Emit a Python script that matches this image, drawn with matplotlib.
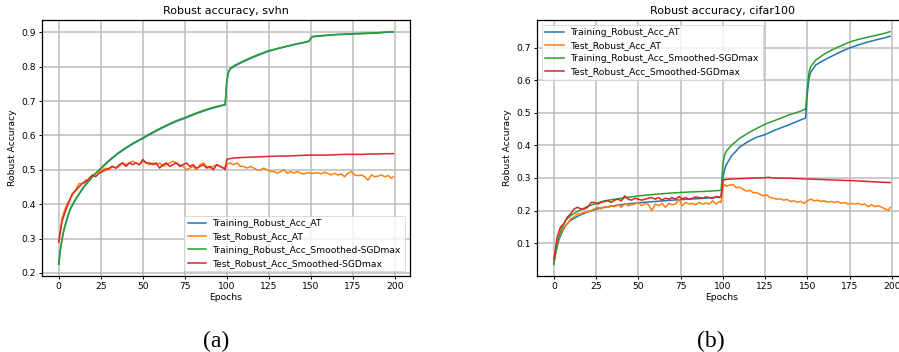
import matplotlib
matplotlib.use("Agg")
import matplotlib.pyplot as plt

# ---------------- Panel (a): svhn ----------------
svhn_x_train = [0, 1, 2, 3, 5, 7, 10, 15, 20, 25, 30, 35, 40, 45, 50, 55, 60, 65, 70, 75, 80, 85, 90, 95, 99,
                100, 101, 102, 105, 110, 115, 120, 125, 130, 135, 140, 145, 149,
                150, 151, 155, 160, 165, 170, 175, 180, 185, 190, 195, 199]
svhn_train_at = [0.226, 0.268, 0.298, 0.322, 0.357, 0.386, 0.413, 0.450, 0.479, 0.503, 0.526, 0.546, 0.563, 0.578,
                 0.591, 0.605, 0.618, 0.630, 0.641, 0.650, 0.660, 0.669, 0.677, 0.684, 0.689,
                 0.758, 0.783, 0.793, 0.803, 0.815, 0.826, 0.836, 0.845, 0.852, 0.858, 0.864, 0.869, 0.874,
                 0.883, 0.887, 0.889, 0.891, 0.893, 0.894, 0.895, 0.896, 0.897, 0.898, 0.900, 0.901]
svhn_train_sm = [0.225, 0.270, 0.300, 0.325, 0.360, 0.389, 0.415, 0.452, 0.480, 0.505, 0.528, 0.548, 0.565, 0.580,
                 0.593, 0.607, 0.620, 0.632, 0.643, 0.652, 0.662, 0.671, 0.679, 0.686, 0.690,
                 0.760, 0.785, 0.795, 0.805, 0.817, 0.828, 0.838, 0.847, 0.853, 0.859, 0.865, 0.870, 0.875,
                 0.884, 0.888, 0.890, 0.892, 0.894, 0.895, 0.896, 0.897, 0.898, 0.899, 0.901, 0.902]

svhn_x_test = list(range(0, 100, 2)) + [99] + list(range(100, 200, 2)) + [199]
svhn_test_at = [0.290, 0.360, 0.390, 0.410, 0.425, 0.440, 0.460, 0.460, 0.470, 0.470,
                0.480, 0.490, 0.495, 0.500, 0.505, 0.500, 0.510, 0.505, 0.510, 0.520,
                0.515, 0.520, 0.525, 0.520, 0.515, 0.525, 0.520, 0.515, 0.520, 0.515,
                0.520, 0.510, 0.515, 0.520, 0.525, 0.520, 0.515, 0.510, 0.500, 0.505,
                0.510, 0.500, 0.515, 0.520, 0.510, 0.505, 0.510, 0.515, 0.510, 0.505,
                0.510,
                0.515, 0.520, 0.515, 0.520, 0.510, 0.510, 0.505, 0.510, 0.505, 0.500,
                0.500, 0.505, 0.500, 0.495, 0.495, 0.490, 0.495, 0.500, 0.490, 0.495,
                0.490, 0.495, 0.490, 0.488, 0.492, 0.490, 0.490, 0.492, 0.488, 0.493,
                0.490, 0.485, 0.490, 0.485, 0.488, 0.480, 0.490, 0.495, 0.485, 0.483,
                0.485, 0.480, 0.470, 0.485, 0.480, 0.482, 0.485, 0.480, 0.483, 0.475,
                0.480]

svhn_x_test_sm = list(range(0, 100, 2)) + [99] + [100, 102, 104, 106, 110, 115, 120, 125, 130, 135, 140, 145,
                                                  150, 155, 160, 165, 170, 175, 180, 185, 190, 195, 199]
svhn_test_sm = [0.290, 0.350, 0.380, 0.405, 0.430, 0.440, 0.450, 0.460, 0.465, 0.475,
                0.485, 0.480, 0.490, 0.495, 0.500, 0.505, 0.510, 0.505, 0.515, 0.520,
                0.510, 0.520, 0.515, 0.520, 0.515, 0.530, 0.520, 0.520, 0.515, 0.520,
                0.505, 0.515, 0.520, 0.510, 0.515, 0.520, 0.510, 0.515, 0.520, 0.510,
                0.515, 0.505, 0.510, 0.515, 0.505, 0.510, 0.500, 0.515, 0.510, 0.505,
                0.500,
                0.530, 0.533, 0.534, 0.535, 0.536, 0.537, 0.538, 0.539, 0.540, 0.540, 0.541, 0.542,
                0.543, 0.543, 0.543, 0.544, 0.545, 0.545, 0.545, 0.546, 0.546, 0.547, 0.547]

# ---------------- Panel (b): cifar100 ----------------
c100_x_train = [0, 1, 2, 3, 5, 7, 10, 15, 20, 25, 30, 40, 50, 60, 70, 80, 90, 99,
                100, 101, 102, 105, 110, 115, 120, 125, 130, 135, 140, 145, 149,
                150, 151, 152, 155, 160, 165, 170, 175, 180, 185, 190, 195, 199]
c100_train_at = [0.040, 0.065, 0.090, 0.110, 0.135, 0.155, 0.170, 0.185, 0.196, 0.204, 0.210, 0.218, 0.224,
                 0.228, 0.232, 0.235, 0.238, 0.242,
                 0.300, 0.325, 0.340, 0.367, 0.395, 0.412, 0.425, 0.433, 0.445, 0.455, 0.465, 0.476, 0.484,
                 0.560, 0.605, 0.625, 0.647, 0.662, 0.675, 0.688, 0.699, 0.708, 0.716, 0.723, 0.729, 0.735]
c100_train_sm = [0.035, 0.070, 0.100, 0.120, 0.150, 0.170, 0.185, 0.200, 0.213, 0.222, 0.230, 0.238, 0.245,
                 0.250, 0.254, 0.257, 0.259, 0.262,
                 0.340, 0.370, 0.382, 0.400, 0.422, 0.438, 0.452, 0.465, 0.475, 0.485, 0.495, 0.503, 0.512,
                 0.580, 0.625, 0.642, 0.662, 0.680, 0.694, 0.706, 0.717, 0.725, 0.731, 0.737, 0.743, 0.749]

c100_x_test = list(range(0, 100, 2)) + [99] + [100, 101] + list(range(102, 200, 2)) + [199]
c100_test_at = [0.040, 0.100, 0.130, 0.150, 0.160, 0.175, 0.180, 0.190, 0.190, 0.195,
                0.195, 0.200, 0.205, 0.210, 0.205, 0.212, 0.210, 0.215, 0.212, 0.218,
                0.210, 0.222, 0.215, 0.218, 0.220, 0.225, 0.215, 0.222, 0.218, 0.200,
                0.220, 0.215, 0.222, 0.210, 0.222, 0.218, 0.220, 0.235, 0.215, 0.225,
                0.220, 0.222, 0.218, 0.225, 0.220, 0.223, 0.220, 0.230, 0.220, 0.228,
                0.225,
                0.270, 0.280,
                0.275, 0.278, 0.280, 0.270, 0.272, 0.265, 0.260, 0.262, 0.255, 0.255,
                0.250, 0.245, 0.248, 0.240, 0.238, 0.235, 0.236, 0.232, 0.234, 0.228,
                0.230, 0.226, 0.228, 0.222, 0.230, 0.235, 0.230, 0.232, 0.228, 0.230,
                0.226, 0.228, 0.225, 0.228, 0.222, 0.225, 0.220, 0.222, 0.220, 0.222,
                0.218, 0.220, 0.212, 0.218, 0.212, 0.215, 0.210, 0.205, 0.200,
                0.210]

c100_x_test_sm = list(range(0, 100, 2)) + [99] + [100, 101, 105, 110, 115, 120, 125, 127, 130, 140,
                                                  150, 160, 170, 180, 190, 199]
c100_test_sm = [0.050, 0.120, 0.150, 0.160, 0.180, 0.190, 0.205, 0.210, 0.205, 0.205,
                0.210, 0.225, 0.225, 0.220, 0.225, 0.228, 0.230, 0.225, 0.232, 0.235,
                0.230, 0.245, 0.235, 0.232, 0.238, 0.235, 0.232, 0.235, 0.238, 0.240,
                0.235, 0.240, 0.232, 0.238, 0.235, 0.240, 0.235, 0.243, 0.236, 0.240,
                0.235, 0.238, 0.242, 0.240, 0.238, 0.242, 0.240, 0.238, 0.243, 0.240,
                0.245,
                0.290, 0.295, 0.297, 0.298, 0.299, 0.300, 0.301, 0.302, 0.300, 0.299,
                0.297, 0.295, 0.293, 0.291, 0.288, 0.286]

labels = ["Training_Robust_Acc_AT", "Test_Robust_Acc_AT",
          "Training_Robust_Acc_Smoothed-SGDmax", "Test_Robust_Acc_Smoothed-SGDmax"]
titles = ["Robust accuracy, svhn", "Robust accuracy, cifar100"]
captions = ["(a)", "(b)"]
xticks = [0, 25, 50, 75, 100, 125, 150, 175, 200]

colors = ["#1f77b4", "#ff7f0e", "#2ca02c", "#d62728"]

fig = plt.figure(figsize=(8.99, 3.52), dpi=100)
ax_a = fig.add_axes([42 / 899, 1 - 276 / 352, 368 / 899, 256 / 352])
ax_b = fig.add_axes([537 / 899, 1 - 276 / 352, 370 / 899, 256 / 352])

FS = 6.6
panels = [
    (ax_a, [(svhn_x_train, svhn_train_at), (svhn_x_test, svhn_test_at),
            (svhn_x_train, svhn_train_sm), (svhn_x_test_sm, svhn_test_sm)], "lower right"),
    (ax_b, [(c100_x_train, c100_train_at), (c100_x_test, c100_test_at),
            (c100_x_train, c100_train_sm), (c100_x_test_sm, c100_test_sm)], "upper left"),
]

for i, (ax, series, loc) in enumerate(panels):
    for (xs, ys), lab, col in zip(series, labels, colors):
        ax.plot(xs, ys, color=col, lw=1.1, label=lab)
    ax.set_xticks(xticks)
    ax.grid(True, color="#bdbdbd", lw=1.1)
    ax.set_axisbelow(True)
    ax.tick_params(labelsize=FS, length=2.5, width=0.7, pad=2)
    ax.set_xlabel("Epochs", fontsize=FS, labelpad=1)
    ax.set_ylabel("Robust Accuracy", fontsize=FS, labelpad=3)
    ax.set_title(titles[i], fontsize=8, pad=4)
    for s in ax.spines.values():
        s.set_linewidth(0.9)
    leg = ax.legend(loc=loc, fontsize=FS, framealpha=0.8, borderpad=0.4,
                    labelspacing=0.45, handlelength=2.0, fancybox=True)
    leg.get_frame().set_linewidth(0.6)

ax_a.set_yticks([0.2, 0.3, 0.4, 0.5, 0.6, 0.7, 0.8, 0.9])
ax_b.set_yticks([0.1, 0.2, 0.3, 0.4, 0.5, 0.6, 0.7])

fig.text(216 / 899, 1 - 341 / 352, captions[0], fontsize=17, family="Liberation Serif",
         ha="center", va="center")
fig.text(711 / 899, 1 - 341 / 352, captions[1], fontsize=17, family="Liberation Serif",
         ha="center", va="center")

fig.savefig("out.png", dpi=100)
